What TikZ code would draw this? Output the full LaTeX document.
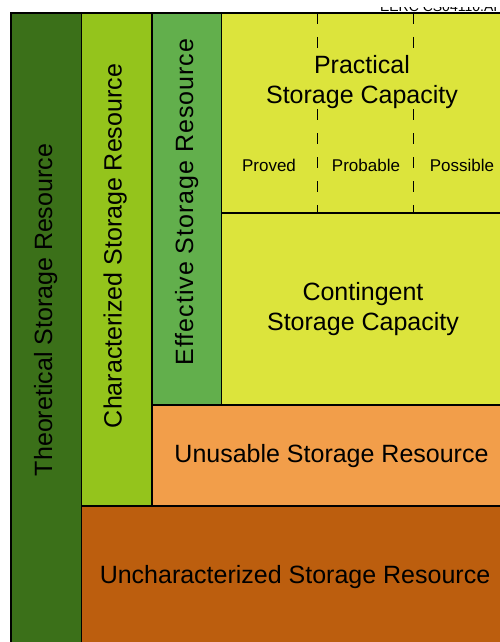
\documentclass[tikz,border=0pt]{standalone}
\usepackage{fontspec}
\setmainfont{Liberation Sans}
\definecolor{theogreen}{HTML}{3B7019}
\definecolor{chargreen}{HTML}{94C41C}
\definecolor{effgreen}{HTML}{62AF4C}
\definecolor{capyellow}{HTML}{DCE43C}
\definecolor{unusorange}{HTML}{F29E4A}
\definecolor{uncharbrown}{HTML}{BC5E0E}

\begin{document}
\begin{tikzpicture}[x=1pt,y=-1pt,line width=1.5pt,
  bigtext/.style={font=\fontsize{25}{30}\selectfont,align=center,inner sep=0pt},
  smalltext/.style={font=\fontsize{17}{20}\selectfont,inner sep=0pt},
  tick/.style={line width=0.8pt,dash pattern=on 11pt off 13pt}]
\useasboundingbox (0,0) rectangle (500,642);
\draw[fill=theogreen] (11,13) rectangle (520,660);
\draw[fill=chargreen] (81.5,13) rectangle (520,506);
\draw[fill=uncharbrown] (81.5,506) rectangle (520,660);
\draw[fill=unusorange] (152,405) rectangle (520,506);
\draw[fill=effgreen] (152,13) rectangle (221.5,405);
\draw[fill=capyellow] (221.5,13) rectangle (520,405);
\draw (221.5,213) -- (520,213);
\draw[tick] (317.5,13) -- (317.5,213);
\draw[tick] (413.5,13) -- (413.5,213);

\begin{scope}
\clip (370,7.3) rectangle (500,12);
\node[font=\fontsize{14}{16}\selectfont,anchor=base east,inner sep=0pt] (tag) at (498,11.7) {EERC CS04110.AI};
\end{scope}

\node[bigtext,rotate=90,anchor=base] (theo) at (52,310) {Theoretical Storage Resource};
\node[bigtext,rotate=90,anchor=base] (char) at (121.7,246) {Characterized Storage Resource};
\node[bigtext,rotate=90,anchor=base] (eff) at (193,202) {\addfontfeature{LetterSpace=4}Effective Storage Resource};
\node[bigtext,fill=capyellow,anchor=north] (prac) at (362,55) {Practical\\Storage Capacity};
\node[smalltext,anchor=base] (proved) at (269,171) {Proved};
\node[smalltext,anchor=base] (probable) at (366,171) {Probable};
\node[smalltext,anchor=base] (possible) at (462,171) {Possible};
\node[bigtext,anchor=north] (cont) at (363,282) {Contingent\\Storage Capacity};
\node[bigtext,anchor=base] (unus) at (331.5,462) {Unusable Storage Resource};
\node[bigtext,anchor=base] (unchar) at (295,583) {Uncharacterized Storage Resource};
\end{tikzpicture}
\end{document}
